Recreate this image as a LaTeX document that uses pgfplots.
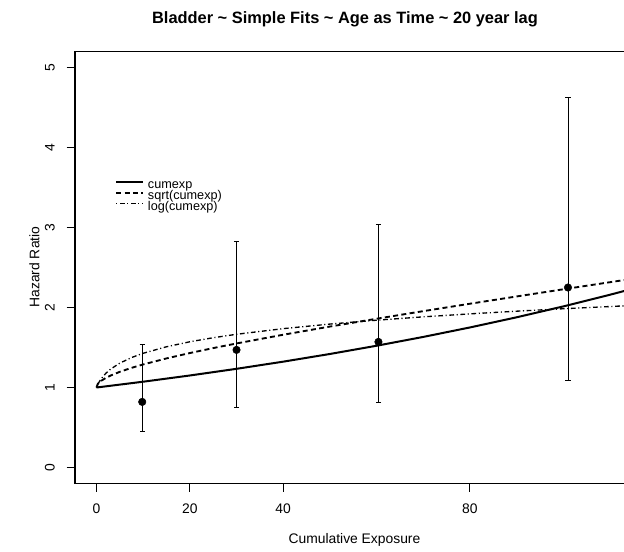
\documentclass[border=0pt]{standalone}
\usepackage{fontspec}
\setmainfont{Liberation Sans}
\usepackage{pgfplots}
\pgfplotsset{compat=1.18}
\usetikzlibrary{calc}
\begin{document}
\begin{tikzpicture}
\begin{axis}[
  scale only axis, width=411.75pt, height=324pt,
  xmin=-4.6, xmax=113, ymin=-0.2, ymax=5.2,
  xtick={0,20,40,80}, ytick={0,1,2,3,4,5},
  xtick pos=left, ytick pos=left,
  tick align=outside, major tick length=6.2pt,
  tick style={black, line width=0.8pt},
  axis line style={draw=none},
  clip=false,
  /pgf/number format/assume math mode=true,
  ticklabel style={font=\fontsize{10.4}{12}\selectfont},
  xticklabel style={anchor=north, inner sep=0pt},
  yticklabel style={rotate=90, anchor=south, inner sep=0pt},
  xticklabel shift=8.8pt, yticklabel shift=8.8pt,
  title={Bladder \textasciitilde{} Simple Fits \textasciitilde{} Age as Time \textasciitilde{} 20 year lag},
  title style={at={(axis description cs:0.4918,1.0567)}, anchor=center, font=\bfseries\fontsize{12.3}{14}\selectfont, inner sep=0pt},
  xlabel={Cumulative Exposure},
  xlabel style={at={(axis description cs:0.509,-0.130)}, anchor=center, font=\fontsize{10.4}{12}\selectfont, inner sep=0pt},
  ylabel={Hazard Ratio},
  ylabel style={at={(axis description cs:-0.074,0.501)}, anchor=center, font=\fontsize{10.4}{12}\selectfont, inner sep=0pt},
  legend style={at={(axis description cs:0.0729,0.701)}, anchor=north west, draw=none, fill=none, inner sep=0pt,
    font=\fontsize{9.5}{11}\selectfont, nodes={inner sep=0pt, text height=6pt, text depth=2pt}, column sep=3pt},
  legend cell align=left,
  legend image code/.code={\draw[#1] (0pt,3pt) -- (20pt,3pt);},
]
\coordinate (sw) at (rel axis cs:0,0);
\draw[black, line width=0.9pt] (rel axis cs:1,1) -- (rel axis cs:0,1) -- (rel axis cs:0,0) -- (rel axis cs:1,0);

\addplot[black, line width=1.5pt] table {
x y
0 1
10 1.0725
20 1.1503
30 1.2337
40 1.3231
50 1.4191
60 1.5220
70 1.6323
80 1.7507
90 1.8776
100 2.0138
110 2.1598
113 2.2056
};
\addlegendentry{cumexp}

\addplot[black, line width=1.4pt, dash pattern=on 3.75pt off 2.5pt] table {
x y
0 1
0.25 1.0409
0.5 1.0583
1 1.0834
2 1.1199
3 1.1488
5 1.1962
7.5 1.2453
10 1.2883
15 1.3638
20 1.4308
25 1.4926
30 1.5507
40 1.6596
50 1.7619
60 1.8597
70 1.9545
80 2.0472
90 2.1381
100 2.2278
113 2.3430
};
\addlegendentry{sqrt(cumexp)}

\addplot[black, line width=1.0pt, dash pattern=on 0.8pt off 2pt on 3.5pt off 2pt] table {
x y
0 1
0.25 1.0337
0.5 1.0621
1 1.1084
2 1.1772
3 1.2286
5 1.3048
7.5 1.3741
10 1.4278
15 1.5094
20 1.5716
25 1.6223
30 1.6652
40 1.7358
50 1.7930
60 1.8413
70 1.8833
80 1.9205
90 1.9540
100 1.9845
113 2.0206
};
\addlegendentry{log(cumexp)}

\addplot[black, only marks, mark=*, mark size=2.8pt, forget plot,
  error bars/.cd, y dir=both, y explicit,
  error bar style={line width=0.6pt},
  error mark=|, error mark options={line width=0.6pt, mark size=2pt}]
  table[x=x, y=y, y error plus=ep, y error minus=em] {
x y ep em
9.8 0.82 0.72 0.37
30 1.47 1.36 0.72
60.4 1.57 1.47 0.76
101 2.25 2.38 1.165
};
\end{axis}
\pgfresetboundingbox
\path ($(sw)+(-56.25pt,-50.625pt)$) rectangle ($(sw)+(411.75pt,362.625pt)$);
\end{tikzpicture}
\end{document}
